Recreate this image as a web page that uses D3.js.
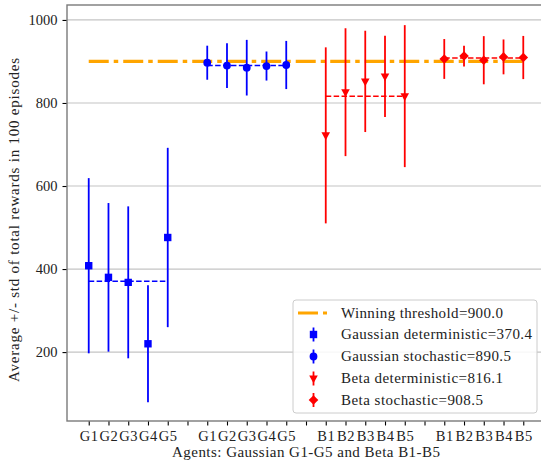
<!DOCTYPE html>
<html><head><meta charset="utf-8">
<script src="https://cdn.jsdelivr.net/npm/d3@7"></script>
<style>
html,body{margin:0;padding:0;background:#fff;}
text{font-family:"Liberation Serif","DejaVu Serif",serif;fill:#222;}
</style></head>
<body><svg id="chart" width="541" height="462"></svg>
<script>
// ---- data ----
const xTickLabels = ["G1","G2","G3","G4","G5","","G1","G2","G3","G4","G5","","B1","B2","B3","B4","B5","","B1","B2","B3","B4","B5"];
const yTicks = [200, 400, 600, 800, 1000];
const threshold = 900.0;
const gaussDetMean = [408, 380, 368, 220, 476];
const gaussDetStd  = [211, 179, 183, 141, 216];
const gaussStoMean = [897, 890, 885, 889, 891.5];
const gaussStoStd  = [41, 54, 67, 35, 58];
const betaDetMean  = [722, 826, 852, 864, 816.5];
const betaDetStd   = [212, 154, 122, 98, 171];
const betaStoMean  = [906, 913, 903, 911, 909.5];
const betaStoStd   = [48, 25, 58, 42, 52];
const seriesNames  = ["Gaussian deterministic", "Gaussian stochastic", "Beta deterministic", "Beta stochastic"];
const groupOffsets = [0, 6, 12, 18];

const series = [
  {name: seriesNames[0], mean: gaussDetMean, std: gaussDetStd, off: groupOffsets[0], color: "#0000ff", marker: "square"},
  {name: seriesNames[1], mean: gaussStoMean, std: gaussStoStd, off: groupOffsets[1], color: "#0000ff", marker: "circle"},
  {name: seriesNames[2], mean: betaDetMean,  std: betaDetStd,  off: groupOffsets[2], color: "#ff0000", marker: "tri"},
  {name: seriesNames[3], mean: betaStoMean,  std: betaStoStd,  off: groupOffsets[3], color: "#ff0000", marker: "diamond"}
];
series.forEach(s => { s.avg = d3.mean(s.mean); });

// ---- layout ----
const svg = d3.select("#chart");
const L = 67, R = 545, T = 5, B = 421;
const x = d3.scaleLinear().domain([-1.1, 23.1]).range([L, R]);
const y = d3.scaleLinear().domain([34, 1036]).range([B, T]);

// grid
svg.append("g").selectAll("line").data(yTicks).join("line")
  .attr("x1", L).attr("x2", R).attr("y1", d => y(d)).attr("y2", d => y(d))
  .attr("stroke", "#c4c4c4").attr("stroke-width", 1.2);

// axes
const yAxis = d3.axisLeft(y).tickValues(yTicks).tickSize(4.5).tickPadding(5).tickFormat(d3.format("d"));
const gy = svg.append("g").attr("transform", `translate(${L},0)`).call(yAxis);
const xAxis = d3.axisBottom(x).tickValues(d3.range(xTickLabels.length)).tickSize(4.5).tickPadding(4)
  .tickFormat(i => xTickLabels[i]);
const gx = svg.append("g").attr("transform", `translate(0,${B})`).call(xAxis);
[gx, gy].forEach(g => {
  g.select(".domain").remove();
  g.selectAll(".tick line").attr("stroke", "#000").attr("stroke-width", 1.1);
  g.selectAll(".tick text").style("font-size", "14.5px").attr("fill", "#222")
    .style("font-family", '"Liberation Serif",serif');
});
gx.selectAll(".tick text").attr("dy", "0.76em").style("letter-spacing", "0.6px");

// threshold line
svg.append("line").attr("x1", x(0)).attr("x2", x(22)).attr("y1", y(threshold)).attr("y2", y(threshold))
  .attr("stroke", "#ffa500").attr("stroke-width", 3.2).attr("stroke-dasharray", "20,5,4.5,5");

// marker generator
function markerPath(type, cx, cy) {
  const p = d3.path();
  if (type === "square") { const h = 3.7; p.rect(cx - h, cy - h, 2*h, 2*h); }
  else if (type === "circle") { p.moveTo(cx + 3.9, cy); p.arc(cx, cy, 3.9, 0, 2*Math.PI); }
  else if (type === "tri") { p.moveTo(cx - 4.3, cy - 3); p.lineTo(cx + 4.3, cy - 3); p.lineTo(cx, cy + 4.8); p.closePath(); }
  else if (type === "diamond") { const h = 4.8; p.moveTo(cx, cy - h); p.lineTo(cx + h, cy); p.lineTo(cx, cy + h); p.lineTo(cx - h, cy); p.closePath(); }
  return p.toString();
}

series.forEach(s => {
  const g = svg.append("g");
  const pts = s.mean.map((m, i) => ({xi: s.off + i, m, sd: s.std[i]}));
  g.append("line").attr("x1", x(s.off)).attr("x2", x(s.off + s.mean.length - 1))
    .attr("y1", y(s.avg)).attr("y2", y(s.avg))
    .attr("stroke", s.color).attr("stroke-width", 1.5).attr("stroke-dasharray", "5.5,2.4");
  g.selectAll("line.err").data(pts).join("line").attr("class", "err")
    .attr("x1", d => x(d.xi)).attr("x2", d => x(d.xi))
    .attr("y1", d => y(d.m - d.sd)).attr("y2", d => y(d.m + d.sd))
    .attr("stroke", s.color).attr("stroke-width", 1.8);
  g.selectAll("path.mk").data(pts).join("path").attr("class", "mk")
    .attr("d", d => markerPath(s.marker, x(d.xi), y(d.m)))
    .attr("fill", s.color);
});

// legend
const lg = svg.append("g");
lg.append("rect").attr("x", 293).attr("y", 300).attr("width", 244).attr("height", 113)
  .attr("rx", 3).attr("fill", "#fff").attr("fill-opacity", 0.85)
  .attr("stroke", "#cccccc").attr("stroke-width", 1);
const rowY = [313, 334.5, 356.5, 378.5, 400];
const legendWidths = [162, 191, 170, 162, 142];
const legendTexts = [`Winning threshold=${threshold.toFixed(1)}`].concat(series.map(s => `${s.name}=${s.avg.toFixed(1)}`));
lg.append("line").attr("x1", 298).attr("x2", 327).attr("y1", rowY[0]).attr("y2", rowY[0])
  .attr("stroke", "#ffa500").attr("stroke-width", 3.2).attr("stroke-dasharray", "20,5,4.5,5");
series.forEach((s, i) => {
  const yy = rowY[i + 1];
  lg.append("line").attr("x1", 313.5).attr("x2", 313.5).attr("y1", yy - 7).attr("y2", yy + 7)
    .attr("stroke", s.color).attr("stroke-width", 1.8);
  lg.append("path").attr("d", markerPath(s.marker, 313.5, yy)).attr("fill", s.color);
});
lg.selectAll("text").data(legendTexts).join("text")
  .attr("x", 341).attr("y", (d, i) => rowY[i] + 4.5)
  .attr("textLength", (d, i) => legendWidths[i]).attr("lengthAdjust", "spacing")
  .style("font-size", "15px").text(d => d);

// axis labels
svg.append("text").attr("x", x(11)).attr("y", 456.5).attr("text-anchor", "middle")
  .attr("textLength", 268).attr("lengthAdjust", "spacing")
  .style("font-size", "15px").text("Agents: Gaussian G1-G5 and Beta B1-B5");
svg.append("text").attr("transform", `translate(19,220) rotate(-90)`)
  .attr("text-anchor", "middle").style("font-size", "15px")
  .attr("textLength", 324).attr("lengthAdjust", "spacing")
  .text("Average +/- std of total rewards in 100 episodes");

// frame
svg.append("rect").attr("x", L).attr("y", T).attr("width", R - L).attr("height", B - T)
  .attr("fill", "none").attr("stroke", "#7a7a7a").attr("stroke-width", 1.4);
</script></body></html>
